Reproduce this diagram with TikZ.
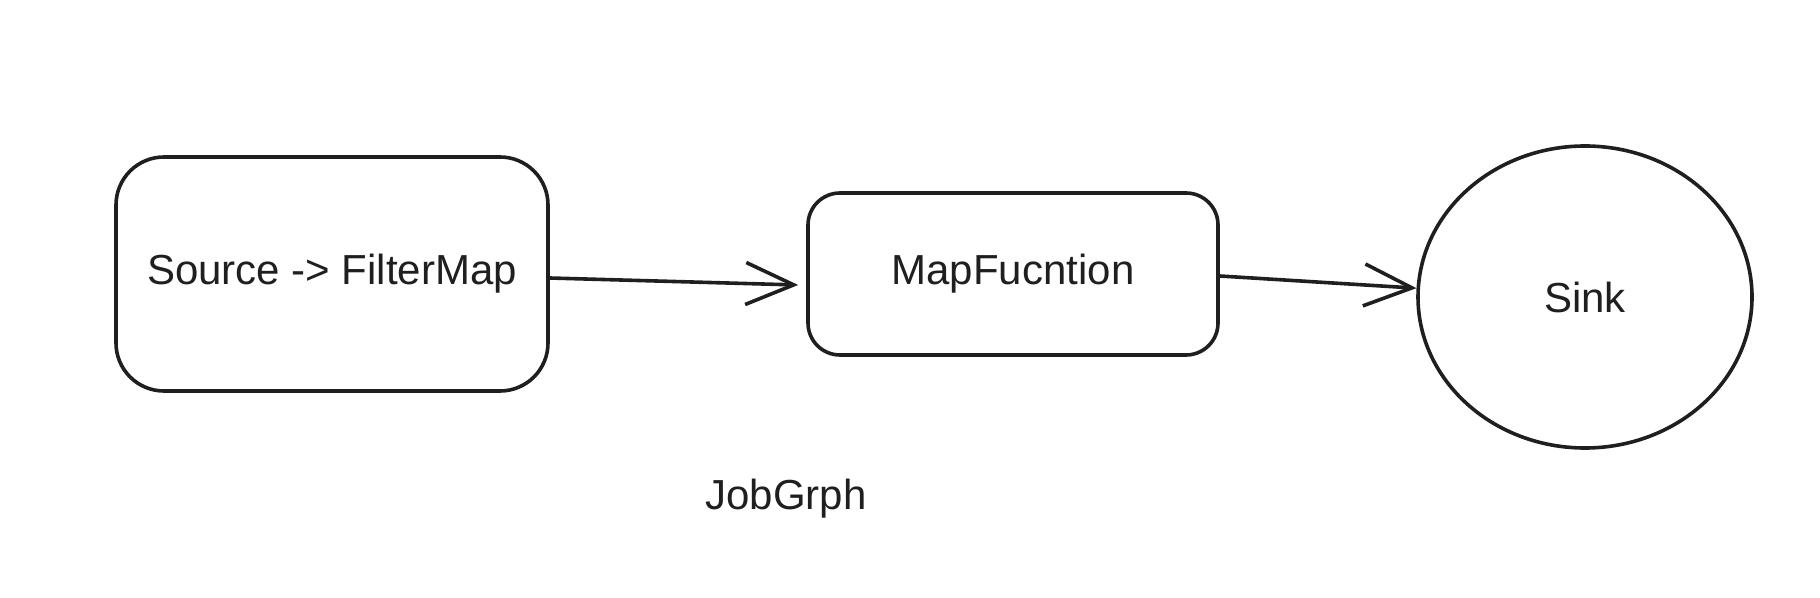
\documentclass[tikz,border=0pt]{standalone}
\usepackage{fontspec}
\setmainfont{Liberation Sans}
\usetikzlibrary{arrows.meta,calc,shapes.geometric}
\begin{document}
\begin{tikzpicture}[x=0.5pt,y=-0.5pt,
  ink/.style={draw=black!88,line width=1.8pt},
  txt/.style={font=\fontsize{21}{24}\selectfont,text=black!88},
  boxa/.style={ink,txt,rounded corners=24pt,inner sep=0pt},
  sinkshape/.style={ink,txt,ellipse,inner sep=0pt},
  conn/.style={ink,-{Straight Barb[length=24pt,width=21pt,line width=1.8pt]}}]
\useasboundingbox (0,0) rectangle (1820,598);
\node[boxa,minimum width=216pt,minimum height=117pt] (src) at (332,274) {Source -> FilterMap};
\node[boxa,rounded corners=16pt,minimum width=205pt,minimum height=81pt] (map) at (1013,274) {MapFucntion};
\node[sinkshape,minimum width=167pt,minimum height=151pt] (sink) at (1585,297) {Sink};
\node[txt] (job) at (786,499) {JobGrph};
\draw[conn] ($(src.east)+(0,4)$) -- ($(map.west)+(-8,11)$);
\draw[conn] ($(map.east)+(0,2)$) -- (sink.177);
\end{tikzpicture}
\end{document}
